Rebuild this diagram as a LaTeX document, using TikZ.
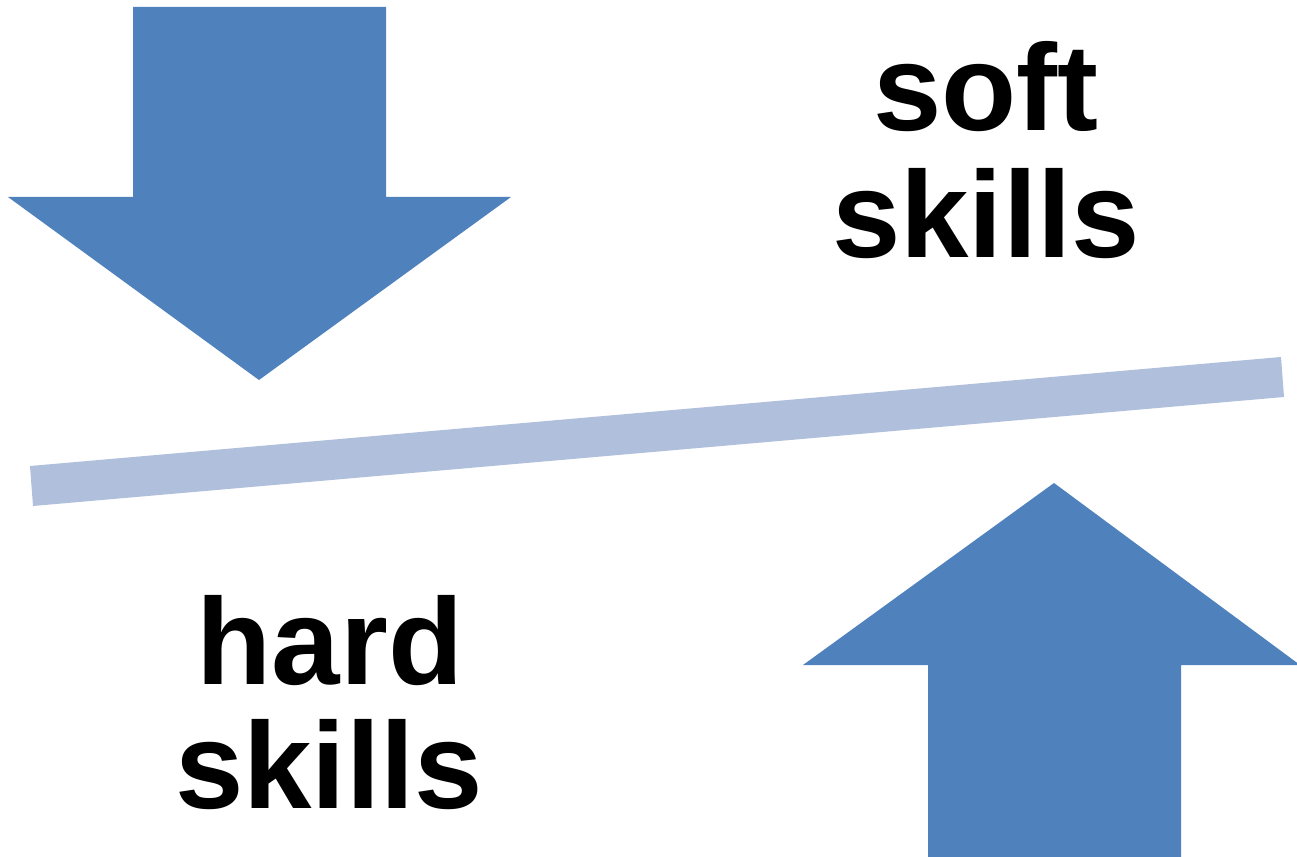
\documentclass[tikz,border=0pt]{standalone}
\usepackage{fontspec}
\setmainfont{Liberation Sans}
\definecolor{arrowblue}{HTML}{4F81BD}
\definecolor{barblue}{HTML}{B0C0DC}
\begin{document}
\begin{tikzpicture}[x=0.02cm,y=-0.02cm,
  arrowshape/.style={fill=arrowblue,draw=none},
  label/.style={font=\fontsize{70}{84}\selectfont\bfseries,anchor=base,inner sep=0pt}]
\useasboundingbox (0,0) rectangle (1297,857);
% down arrow
\fill[arrowshape] (133,7) -- (386,7) -- (386,197) -- (511,197) -- (259,380) -- (8,197) -- (133,197) -- cycle;
% up arrow
\fill[arrowshape] (928,857) -- (928,665) -- (803,665) -- (1054,483) -- (1300,665) -- (1181,665) -- (1181,857) -- cycle;
% bar
\fill[barblue] (30,466) -- (1281,357) -- (1284,397) -- (33,506) -- cycle;
% texts
\node[label] (soft1) at (986,131) {soft};
\node[label] (soft2) at (986,258) {skills};
\node[label] (hard1) at (330,684) {hard};
\node[label] (hard2) at (329,808) {skills};
\end{tikzpicture}
\end{document}
